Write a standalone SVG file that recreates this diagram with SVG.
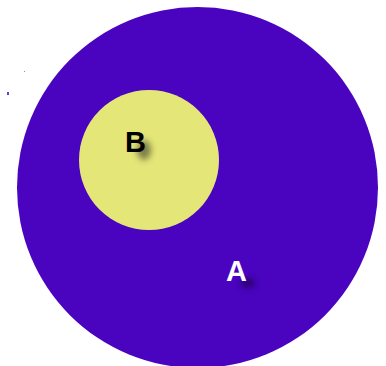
<svg xmlns="http://www.w3.org/2000/svg" width="386" height="366" viewBox="0 0 386 366">
<defs>
<filter id="sh" x="-100%" y="-100%" width="300%" height="300%"><feGaussianBlur stdDeviation="3"/></filter>
<style>
.lbl{font-family:"Liberation Sans",Arial,sans-serif;font-weight:bold;font-size:29px}
</style>
</defs>
<rect width="386" height="366" fill="#ffffff"/>
<rect x="7" y="92" width="2" height="3" fill="#6a3ad0"/>
<rect x="24" y="71" width="1" height="1" fill="#9a80e0"/>
<g id="A">
<circle cx="197.5" cy="187.5" r="180.5" fill="#4A04BF"/>
<ellipse cx="248" cy="283" rx="7" ry="5" fill="#20005a" filter="url(#sh)" opacity="0.8"/>
<text class="lbl" x="226" y="281" fill="#ffffff">A</text>
</g>
<g id="B">
<circle cx="149" cy="160" r="70" fill="#E4E678"/>
<ellipse cx="144" cy="150" rx="7" ry="10" fill="#505030" filter="url(#sh)" opacity="0.7"/>
<text class="lbl" x="125" y="152" fill="#000000">B</text>
</g>
</svg>
